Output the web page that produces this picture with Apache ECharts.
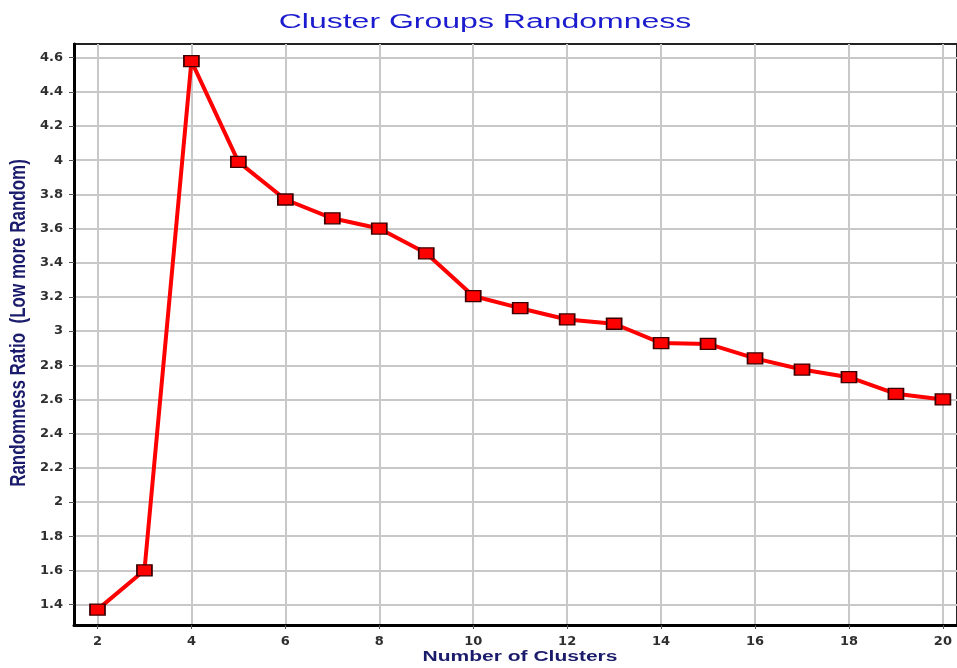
<!DOCTYPE html>
<html>
<head>
<meta charset="utf-8">
<script src="https://cdn.jsdelivr.net/npm/echarts@6/dist/echarts.min.js"></script>
<style>
  html, body { margin: 0; padding: 0; background: #fff; }
  #chart { width: 957px; height: 668px; }
</style>
</head>
<body>
<div id="chart"></div>
<script>
// data
const clusters = [2, 3, 4, 5, 6, 7, 8, 9, 10, 11, 12, 13, 14, 15, 16, 17, 18, 19, 20]
const ratio = [1.37, 1.6, 4.58, 3.99, 3.77, 3.66, 3.6, 3.455, 3.205, 3.134, 3.068, 3.043, 2.93, 2.925, 2.84, 2.775, 2.73, 2.633, 2.6]
const xTicks = [2, 4, 6, 8, 10, 12, 14, 16, 18, 20]
const yTicks = [1.4, 1.6, 1.8, 2, 2.2, 2.4, 2.6, 2.8, 3, 3.2, 3.4, 3.6, 3.8, 4, 4.2, 4.4, 4.6]

const titleText = 'Cluster Groups Randomness'
const xName = 'Number of Clusters'
const yName = 'Randomness Ratio  (Low more Random)'

const myChart = echarts.init(document.getElementById('chart'))

// the original picture is stretched sideways, so the tick text is set a bit wide
const labelStyle = {
  color: '#2f2f2f',
  fontFamily: '"DejaVu Sans", sans-serif',
  fontWeight: 'bold',
  fontSize: 13,
}

const option = {
  animation: false,
  backgroundColor: '#fff',
  graphic: [
    {
      type: 'text',
      x: 485,
      y: 22,
      scaleX: 1.6,
      style: {
        text: titleText,
        font: '20px "Liberation Sans", Arial, sans-serif',
        fill: '#1c1ccf',
        align: 'center',
        verticalAlign: 'middle',
      },
    },
    {
      type: 'text',
      x: 520,
      y: 657,
      scaleX: 1.5,
      style: {
        text: xName,
        font: 'bold 14px "Liberation Sans", Arial, sans-serif',
        fill: '#1b1b6b',
        align: 'center',
        verticalAlign: 'middle',
      },
    },
    {
      type: 'text',
      x: 19,
      y: 323,
      rotation: Math.PI / 2,
      scaleY: 1.35,
      style: {
        text: yName,
        font: 'bold 17px "Liberation Sans", Arial, sans-serif',
        fill: '#1b1b6b',
        align: 'center',
        verticalAlign: 'middle',
      },
    },
  ],
  grid: {
    left: 74,
    right: -2,
    top: 44,
    bottom: 43,
    show: true,
    borderColor: '#222',
    borderWidth: 2,
  },
  xAxis: {
    type: 'value',
    min: 1.5,
    max: 20.3,
    axisLine: { show: true, lineStyle: { color: '#000', width: 3 } },
    axisTick: { show: true, length: 4, customValues: xTicks, lineStyle: { color: '#555' } },
    axisLabel: { ...labelStyle, margin: 10, customValues: xTicks },
    splitLine: { show: true, lineStyle: { color: '#c8c8c8', width: 2 } },
  },
  yAxis: {
    type: 'value',
    min: 1.28,
    max: 4.68,
    axisLine: { show: true, lineStyle: { color: '#000', width: 3 } },
    axisTick: { show: true, length: 5, customValues: yTicks, lineStyle: { color: '#555' } },
    axisLabel: {
      ...labelStyle,
      margin: 11,
      customValues: yTicks,
      formatter: (v) => String(Math.round(v * 10) / 10),
    },
    splitLine: { show: true, lineStyle: { color: '#c8c8c8', width: 2 } },
  },
  series: [
    {
      type: 'line',
      data: clusters.map((c, i) => [c, ratio[i]]),
      symbol: 'rect',
      symbolSize: [15, 11],
      showAllSymbol: true,
      lineStyle: { color: '#ff0000', width: 4 },
      itemStyle: { color: '#ff0000', borderColor: '#3a0000', borderWidth: 1.5 },
      emphasis: { disabled: true },
      z: 3,
    },
  ],
}

myChart.setOption(option)
</script>
</body>
</html>
